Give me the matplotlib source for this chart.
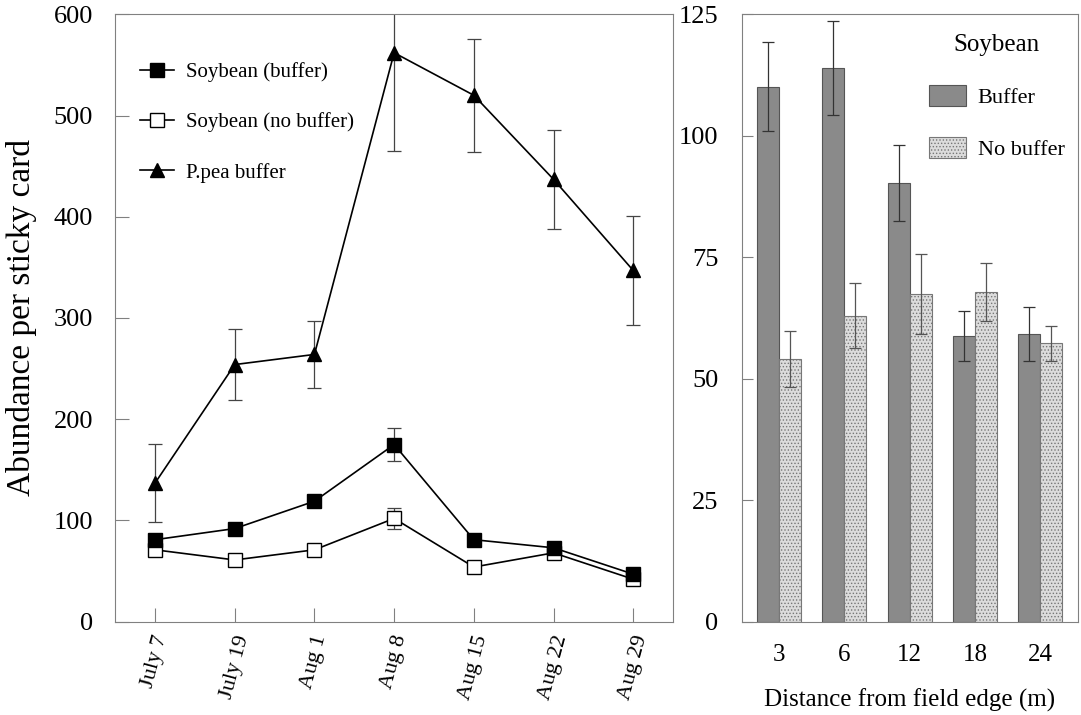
import numpy as np
import matplotlib
matplotlib.use("Agg")
import matplotlib.pyplot as plt

plt.rcParams['font.family'] = ['Liberation Serif', 'DejaVu Serif']
plt.rcParams['hatch.color'] = '#9a9a9a'
plt.rcParams['hatch.linewidth'] = 0.6

# left panel: seasonal abundance
dates = ["July 7", "July 19", "Aug 1", "Aug 8", "Aug 15", "Aug 22", "Aug 29"]
soy_buffer = [81, 92, 119, 175, 81, 73, 47]
soy_buffer_err = [4, 4, 5, 16, 4, 4, 3]
soy_nobuffer = [71, 61, 71, 102, 54, 68, 42]
soy_nobuffer_err = [3, 3, 4, 10, 3, 6, 3]
ppea_buffer = [137, 254, 264, 562, 520, 437, 347]
ppea_buffer_err = [39, 35, 33, 97, 56, 49, 54]

# right panel: distance from field edge
distances = ["3", "6", "12", "18", "24"]
bar_buffer = [110.1, 113.9, 90.3, 58.8, 59.2]
bar_buffer_err = [9.2, 9.7, 7.8, 5.1, 5.5]
bar_nobuffer = [54.1, 63.0, 67.4, 67.9, 57.3]
bar_nobuffer_err = [5.7, 6.6, 8.2, 6.0, 3.6]

fig = plt.figure(figsize=(10.81, 7.15), dpi=100)
ax1 = fig.add_axes([0.1066, 0.1305, 0.516, 0.8495])
ax2 = fig.add_axes([0.6864, 0.1305, 0.3108, 0.8495])

spine_col = '#808080'
err_col = '#444444'
x = np.arange(len(dates))

# error bars first, then lines with markers on top
for vals, errs in [(ppea_buffer, ppea_buffer_err),
                   (soy_nobuffer, soy_nobuffer_err),
                   (soy_buffer, soy_buffer_err)]:
    ax1.errorbar(x, vals, yerr=errs, fmt='none', ecolor=err_col,
                 elinewidth=0.9, capsize=5, capthick=0.9, zorder=2)

l1, = ax1.plot(x, soy_buffer, '-', color='black', lw=1.2, marker='s', ms=10,
               mfc='black', mec='black', zorder=4, label='Soybean (buffer)')
l2, = ax1.plot(x, soy_nobuffer, '-', color='black', lw=1.2, marker='s', ms=10,
               mfc='white', mec='black', zorder=3, label='Soybean (no buffer)')
l3, = ax1.plot(x, ppea_buffer, '-', color='black', lw=1.2, marker='^', ms=10,
               mfc='black', mec='black', zorder=3, label='P.pea buffer')

ax1.set_xlim(-0.5, 6.5)
ax1.set_ylim(0, 600)
ax1.set_yticks(range(0, 601, 100))
ax1.set_xticks(x)
ax1.set_xticklabels(dates, rotation=75, ha='center', fontsize=16)
ax1.tick_params(axis='y', labelsize=19, direction='in', length=10,
                color=spine_col, pad=16)
ax1.tick_params(axis='x', direction='in', length=10, color=spine_col, pad=8)
ax1.set_ylabel('Abundance per sticky card', fontsize=24, labelpad=12)
for s in ax1.spines.values():
    s.set_color(spine_col)

ax1.legend([l1, l2, l3], [l1.get_label(), l2.get_label(), l3.get_label()],
           loc='upper left', bbox_to_anchor=(0.0, 0.962), frameon=False,
           fontsize=15, labelspacing=1.45, handlelength=1.6,
           handletextpad=0.6, borderaxespad=0.8)

# bars
xb = np.arange(len(distances))
w = 0.337
ax2.bar(xb - w / 2, bar_buffer, w, color='#8a8a8a', edgecolor='#555555',
        linewidth=0.8, label='Buffer')
ax2.bar(xb + w / 2, bar_nobuffer, w, color='#dcdcdc', edgecolor='#777777',
        linewidth=0.8, hatch='.....', label='No buffer')
ax2.errorbar(xb - w / 2, bar_buffer, yerr=bar_buffer_err, fmt='none',
             ecolor='#333333', elinewidth=0.9, capsize=4.5, capthick=0.9)
ax2.errorbar(xb + w / 2, bar_nobuffer, yerr=bar_nobuffer_err, fmt='none',
             ecolor='#555555', elinewidth=0.9, capsize=4.5, capthick=0.9)

ax2.set_xlim(-0.57, 4.58)
ax2.set_ylim(0, 125)
ax2.set_yticks(range(0, 126, 25))
ax2.set_xticks(xb)
ax2.set_xticklabels(distances)
ax2.tick_params(axis='y', labelsize=19, direction='in', length=8,
                color=spine_col, pad=17)
ax2.tick_params(axis='x', labelsize=18, length=0, pad=16)
ax2.set_xlabel('Distance from field edge (m)', fontsize=18, labelpad=16)
for s in ax2.spines.values():
    s.set_color(spine_col)

ax2.legend(loc='upper right', bbox_to_anchor=(1.0, 0.99), frameon=False,
           title='Soybean', fontsize=16, title_fontsize=18,
           labelspacing=1.3, handlelength=1.66, handleheight=1.08,
           handletextpad=0.55, borderaxespad=0.2)

fig.savefig('out.png', dpi=100)
